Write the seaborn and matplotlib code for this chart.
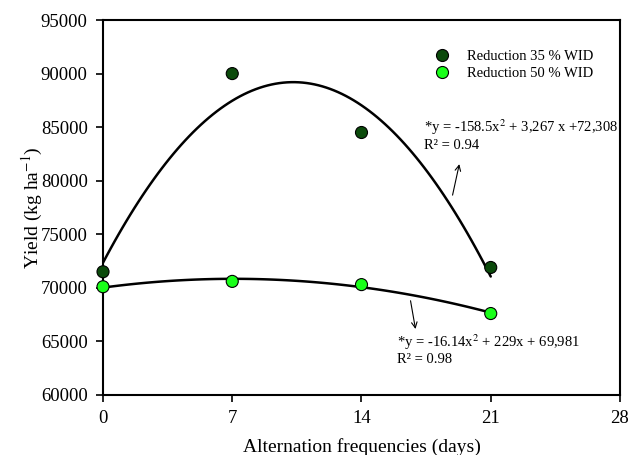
import pandas as pd
import matplotlib.pyplot as plt
import seaborn as sns

# values
days = [0, 7, 14, 21]
yield_35 = [71500, 90000, 84500, 71900]
yield_50 = [70100, 70600, 70300, 67600]
series_names = ['Reduction 35 % WID', 'Reduction 50 % WID']
colors = ['#0b4a0b', '#1aff1a']
xticks = [0, 7, 14, 21, 28]
yticks = [60000, 65000, 70000, 75000, 80000, 85000, 90000, 95000]

df = pd.DataFrame({
    'days': days * 2,
    'yield': yield_35 + yield_50,
    'group': [series_names[0]] * 4 + [series_names[1]] * 4,
})

sns.set_style('white')
plt.rcParams['font.family'] = ['Liberation Serif', 'DejaVu Serif']
plt.rcParams['mathtext.fontset'] = 'stix'
plt.rcParams['text.color'] = 'black'
plt.rcParams['axes.labelcolor'] = 'black'

fig = plt.figure(figsize=(6.3, 4.55), dpi=100)
ax = fig.add_axes([0.1635, 0.132, 0.8206, 0.824])

# quadratic fits
for name in series_names:
    sub = df[df['group'] == name]
    sns.regplot(data=sub, x='days', y='yield', order=2, ci=None, scatter=False,
                truncate=True, color='black', line_kws={'lw': 1.8}, ax=ax)

sns.scatterplot(data=df, x='days', y='yield', hue='group', palette=colors,
                s=75, edgecolor='black', linewidth=0.8, zorder=5,
                clip_on=False, ax=ax)

ax.set_xlim(0, 28)
ax.set_ylim(60000, 95000)
ax.set_xticks(xticks)
ax.set_yticks(yticks)
ax.tick_params(axis='both', direction='out', length=5, width=1.2,
               labelsize=13.5, colors='black', pad=6)
ax.tick_params(top=False, right=False, left=True, bottom=True)
for sp in ax.spines.values():
    sp.set_linewidth(1.5)
    sp.set_color('black')

ax.set_xlabel('Alternation frequencies (days)', fontsize=14, labelpad=8)
ax.set_ylabel('Yield (kg ha$^{-1}$)', fontsize=14, labelpad=-3)

leg = ax.legend(loc='upper left', bbox_to_anchor=(0.6025, 0.956), frameon=False,
                fontsize=10.5, handletextpad=0.7, labelspacing=0.3,
                markerscale=1.0)

ax.text(17.38, 85000, '*y = -158.5x$^{2}$ + 3,267 x +72,308', fontsize=10.5, va='center')
ax.text(17.38, 83300, 'R² = 0.94', fontsize=10.5, va='center')
ax.annotate('', xy=(19.33, 81800), xytext=(18.9, 78400),
            arrowprops=dict(arrowstyle='->', lw=0.8, color='black'))

ax.text(15.92, 64950, '*y = -16.14x$^{2}$ + 229x + 69,981', fontsize=10.5, va='center')
ax.text(15.92, 63270, 'R² = 0.98', fontsize=10.5, va='center')
ax.annotate('', xy=(16.95, 65900), xytext=(16.63, 69050),
            arrowprops=dict(arrowstyle='->', lw=0.8, color='black'))

plt.savefig('out.png', dpi=100)
plt.close()
